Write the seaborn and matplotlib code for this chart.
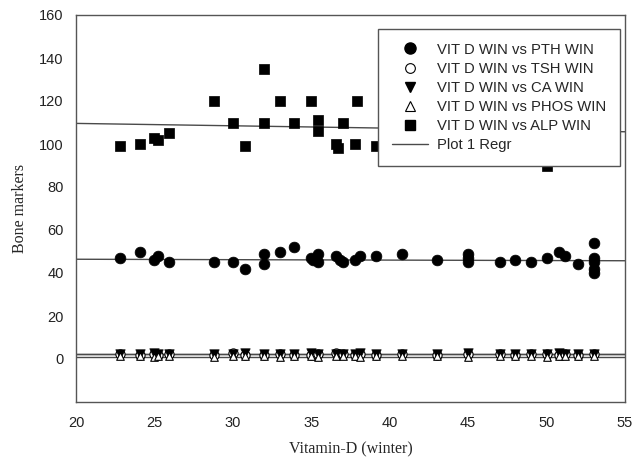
import matplotlib

matplotlib.use("Agg")

import matplotlib.pyplot as plt
import numpy as np
import pandas as pd
import seaborn as sns
from matplotlib.lines import Line2D

# Vitamin-D (winter) vs bone markers
PTH_X = [22.8, 24.1, 25.0, 25.2, 25.9, 28.8, 30.0, 30.8, 32.0, 32.0, 33.0, 33.9, 35.0, 35.1,
         35.4, 35.4, 36.6, 36.8, 37.0, 37.8, 38.1, 39.1, 40.8, 43.0, 45.0, 45.0, 45.0, 47.0,
         48.0, 49.0, 50.0, 50.8, 51.2, 52.0, 53.0, 53.0, 53.0, 53.0, 53.0]
PTH_Y = [47, 50, 46, 48, 45, 45, 45, 42, 49, 44, 50, 52, 47, 46,
         49, 45, 48, 46, 45, 46, 48, 48, 49, 46, 49, 47, 45, 45,
         46, 45, 47, 50, 48, 44, 54, 47, 45, 42, 40]

ALP_X = [22.8, 24.1, 25.0, 25.2, 25.9, 28.8, 30.0, 30.8, 32.0, 32.0, 33.0, 33.9, 35.0, 35.4,
         35.4, 36.6, 36.7, 37.0, 37.9, 37.8, 39.1, 50.0]
ALP_Y = [99, 100, 103, 102, 105, 120, 110, 99, 135, 110, 120, 110, 120, 111,
         106, 100, 98, 110, 120, 100, 99, 90]

LOW_X = [22.8, 24.1, 25.0, 25.2, 25.9, 28.8, 30.0, 30.8, 32.0, 33.0, 33.9, 35.0, 35.4, 36.6,
         37.0, 37.8, 38.1, 39.1, 40.8, 43.0, 45.0, 47.0, 48.0, 49.0, 50.0, 50.8, 51.2, 52.0, 53.0]
TSH_Y = [2.1, 2.0, 2.3, 1.8, 2.2, 2.0, 2.6, 1.9, 2.0, 2.4, 1.9, 2.0, 2.2, 2.8, 2.1,
         2.0, 2.4, 1.9, 2.2, 2.0, 2.5, 2.1, 1.9, 2.2, 2.3, 2.0, 2.1, 1.8, 2.4]
CA_Y = [2.5, 2.4, 2.6, 2.5, 2.4, 2.5, 2.4, 2.6, 2.5, 2.4, 2.5, 2.6, 2.4, 2.5, 2.4,
        2.5, 2.6, 2.5, 2.4, 2.5, 2.6, 2.4, 2.5, 2.4, 2.5, 2.6, 2.4, 2.5, 2.5]
PHOS_Y = [1.2, 1.3, 1.1, 1.4, 1.2, 1.1, 1.3, 1.2, 1.4, 1.0, 1.2, 1.3, 1.1, 1.2, 1.3,
          1.2, 1.1, 1.3, 1.2, 1.4, 1.1, 1.2, 1.3, 1.2, 1.1, 1.3, 1.2, 1.4, 1.2]

# "Plot 1 Regr" lines: intercept and slope per series
REGR_NAMES = ["PTH", "TSH", "CA", "PHOS", "ALP"]
REGR_INTERCEPT = [46.8, 2.2, 2.5, 1.0, 111.8]
REGR_SLOPE = [-0.02, 0.0, 0.0, 0.0, -0.111]

LEGEND_LABELS = [
    "VIT D WIN vs PTH WIN",
    "VIT D WIN vs TSH WIN",
    "VIT D WIN vs CA WIN",
    "VIT D WIN vs PHOS WIN",
    "VIT D WIN vs ALP WIN",
    "Plot 1 Regr",
]

XLIM = (20, 55)
YLIM = (-20, 160)
X_TICKS = [20, 25, 30, 35, 40, 45, 50, 55]
Y_TICKS = [0, 20, 40, 60, 80, 100, 120, 140, 160]

SANS = ["Liberation Sans", "DejaVu Sans"]
SERIF = ["Liberation Serif", "DejaVu Serif"]


def main() -> None:
    sns.set_style("white")
    plt.rcParams["font.family"] = SANS

    fig = plt.figure(figsize=(6.35, 4.68), dpi=100)
    ax = fig.add_axes([76 / 635, 1 - 402 / 468, 549 / 635, 387 / 468])
    ax.set_xlim(*XLIM)
    ax.set_ylim(*YLIM)

    xs = np.array(XLIM, dtype=float)
    for a, b in zip(REGR_INTERCEPT, REGR_SLOPE):
        sns.lineplot(x=xs, y=a + b * xs, ax=ax, color="#4a4a4a", linewidth=1.0, zorder=1)

    pth = pd.DataFrame({"x": PTH_X, "y": PTH_Y})
    alp = pd.DataFrame({"x": ALP_X, "y": ALP_Y})
    low = pd.DataFrame({"x": LOW_X, "tsh": TSH_Y, "ca": CA_Y, "phos": PHOS_Y})

    sns.scatterplot(data=pth, x="x", y="y", ax=ax, marker="o", s=60, color="black",
                    edgecolor="black", linewidth=0.5, zorder=3)
    sns.scatterplot(data=low, x="x", y="tsh", ax=ax, marker="o", s=44, color="white",
                    edgecolor="black", linewidth=0.8, zorder=3)
    sns.scatterplot(data=low, x="x", y="ca", ax=ax, marker="v", s=46, color="black",
                    edgecolor="black", linewidth=0.5, zorder=3)
    sns.scatterplot(data=low, x="x", y="phos", ax=ax, marker="^", s=30, color="white",
                    edgecolor="black", linewidth=0.8, zorder=3)
    sns.scatterplot(data=alp, x="x", y="y", ax=ax, marker="s", s=48, color="black",
                    edgecolor="black", linewidth=0.5, zorder=3)

    ax.set_xticks(X_TICKS)
    ax.set_yticks(Y_TICKS)
    ax.tick_params(axis="both", direction="out", length=4, width=1, color="#555555",
                   labelsize=10.5, labelcolor="#222222")
    ax.tick_params(axis="x", pad=6)
    ax.tick_params(axis="y", pad=5)
    ax.tick_params(top=False, right=False)
    for spine in ax.spines.values():
        spine.set_color("#555555")
        spine.set_linewidth(1.0)

    ax.set_xlabel("Vitamin-D (winter)", fontsize=11.5, family=SERIF, labelpad=8)
    ax.set_ylabel("Bone markers", fontsize=11.5, family=SERIF, labelpad=8)

    handles = [
        Line2D([], [], marker="o", linestyle="", color="black", markersize=8),
        Line2D([], [], marker="o", linestyle="", markerfacecolor="white",
               markeredgecolor="black", markersize=7, markeredgewidth=0.8),
        Line2D([], [], marker="v", linestyle="", color="black", markersize=7),
        Line2D([], [], marker="^", linestyle="", markerfacecolor="white",
               markeredgecolor="black", markersize=7, markeredgewidth=0.8),
        Line2D([], [], marker="s", linestyle="", color="black", markersize=7),
        Line2D([], [], color="#4a4a4a", linewidth=1.0),
    ]
    leg = ax.legend(handles, LEGEND_LABELS, loc="upper left", bbox_to_anchor=(0.55, 0.965),
                    borderaxespad=0, frameon=True, fancybox=False, fontsize=10.7,
                    handlelength=2.4, handletextpad=0.6, labelspacing=0.34,
                    borderpad=0.95)
    leg.get_frame().set_edgecolor("#555555")
    leg.get_frame().set_linewidth(1.0)
    leg.get_frame().set_alpha(1)
    leg.set_zorder(5)

    fig.savefig("out.png", dpi=100)
    plt.close(fig)


if __name__ == "__main__":
    main()
